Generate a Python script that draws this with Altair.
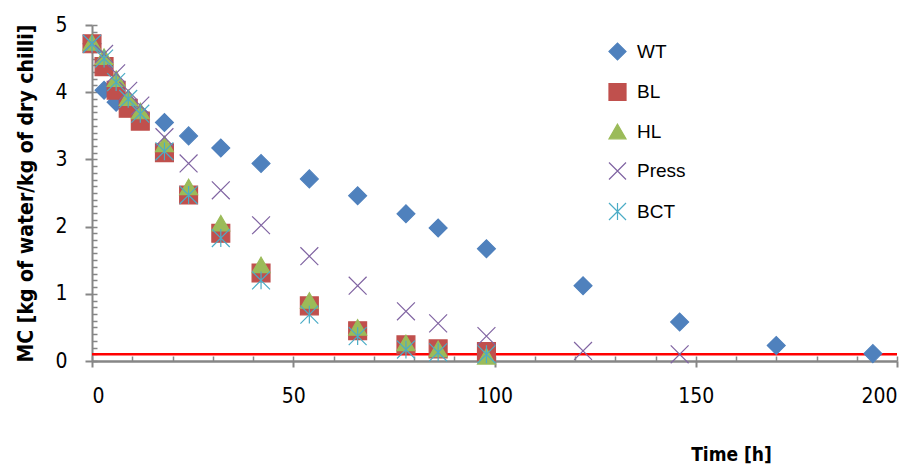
import altair as alt
import pandas as pd

# ---- data ----
SERIES = ["WT", "BL", "HL", "Press", "BCT"]
T_BASE = [0, 3, 6, 9, 12, 18, 24, 32, 42, 54, 66, 78, 86, 98]
T_WT = T_BASE + [122, 146, 170, 194]
T_PRESS = T_BASE + [122, 146]

WT = [4.72, 4.03, 3.85, 3.78, 3.68, 3.55, 3.35, 3.17, 2.94, 2.71, 2.46, 2.19, 1.98, 1.67, 1.12, 0.58, 0.23, 0.11]
BL = [4.72, 4.38, 4.03, 3.76, 3.57, 3.10, 2.47, 1.90, 1.31, 0.82, 0.45, 0.24, 0.18, 0.14]
HL = [4.74, 4.53, 4.20, 3.92, 3.72, 3.23, 2.59, 2.05, 1.43, 0.90, 0.50, 0.27, 0.18, 0.07]
PRESS = [4.72, 4.57, 4.28, 4.02, 3.80, 3.33, 2.94, 2.54, 2.02, 1.56, 1.12, 0.74, 0.56, 0.37, 0.15, 0.10]
BCT = [4.72, 4.50, 4.15, 3.90, 3.68, 3.12, 2.47, 1.83, 1.20, 0.69, 0.37, 0.17, 0.13, 0.10]

THRESHOLD = 0.1
X_TICKS = [0, 50, 100, 150, 200]
X_MINOR = list(range(0, 201, 10))
Y_TICKS = [0, 1, 2, 3, 4, 5]
Y_MINOR = [round(i / 10, 1) for i in range(0, 51)]

COLORS = ["#4F81BD", "#C0504D", "#9BBB59", "#8064A2", "#4BACC6"]
SHAPES = ["diamond", "square", "triangle-up",
          "M-1,-1L1,1M-1,1L1,-1",
          "M-1,-1L1,1M-1,1L1,-1M0,-1L0,1"]

rows = []
for name, times, vals in [("WT", T_WT, WT), ("BL", T_BASE, BL), ("HL", T_BASE, HL),
                          ("Press", T_PRESS, PRESS), ("BCT", T_BASE, BCT)]:
    for t, v in zip(times, vals):
        rows.append({"series": name, "time": t, "mc": v, "order": SERIES.index(name)})
df = pd.DataFrame(rows)

NARROW = "Liberation Sans Narrow, DejaVu Sans Condensed, Arial Narrow, sans-serif"
REG = "Liberation Sans, Arial, sans-serif"
AX = "#868686"

xscale = alt.Scale(domain=[0, 200], nice=False, zero=False)
yscale = alt.Scale(domain=[0, 5], nice=False, zero=False)

x_major = alt.Axis(values=X_TICKS, title="Time [h]", grid=False, orient="bottom",
                   domainColor=AX, domainWidth=2.5,
                   tickColor=AX, tickWidth=2, tickSize=6, labelPadding=18,
                   labelFont=NARROW, labelFontSize=21, labelColor="black",
                   titleFont=NARROW, titleFontSize=19, titleFontWeight="bold", titleColor="black",
                   titleX=639, titleY=93, titleAlign="center", titleBaseline="middle")
y_major = alt.Axis(values=Y_TICKS, title="MC [kg of water/kg of dry chilli]", grid=False,
                   orient="left",
                   domainColor=AX, domainWidth=2, tickColor=AX, tickWidth=2, tickSize=7,
                   labelPadding=18, labelFont=NARROW, labelFontSize=21, labelColor="black",
                   titleFont=NARROW, titleFontSize=21, titleFontWeight="bold", titleColor="black",
                   titleX=-66, titleY=168, titleAngle=270, titleAlign="center", titleBaseline="middle")
x_minor = alt.Axis(values=X_MINOR, title=None, labels=False, domain=False, grid=False,
                   tickColor=AX, tickWidth=1.5, tickSize=5, offset=-5, orient="bottom")
y_minor = alt.Axis(values=Y_MINOR, title=None, labels=False, domain=False, grid=False,
                   tickColor=AX, tickWidth=1.5, tickSize=5, offset=-5, orient="left")

legend = alt.Legend(title=None, orient="none", legendX=516, legendY=17, labelFont=REG,
                    labelFontSize=19, labelColor="black", symbolSize=290, rowPadding=17.5,
                    labelOffset=10, padding=0, symbolStrokeWidth=1.2)

points = alt.Chart(df).mark_point(filled=False, size=320, opacity=1, strokeWidth=1.2).encode(
    x=alt.X("time:Q", scale=xscale, axis=x_major),
    y=alt.Y("mc:Q", scale=yscale, axis=y_major),
    fill=alt.Fill("series:N", sort=SERIES, scale=alt.Scale(domain=SERIES, range=COLORS), legend=legend),
    stroke=alt.Stroke("series:N", sort=SERIES, scale=alt.Scale(domain=SERIES, range=COLORS), legend=legend),
    shape=alt.Shape("series:N", sort=SERIES, scale=alt.Scale(domain=SERIES, range=SHAPES), legend=legend),
    order=alt.Order("order:Q"),
)

line_df = pd.DataFrame({"x": [0], "x2": [200], "y": [THRESHOLD]})
redline = alt.Chart(line_df).mark_rule(color="#FF0000", strokeWidth=2.5).encode(
    x=alt.X("x:Q", scale=xscale, axis=x_minor),
    x2="x2:Q",
    y=alt.Y("y:Q", scale=yscale, axis=y_minor),
)

chart = alt.layer(redline, points).resolve_axis(x="independent", y="independent").properties(
    width=805, height=336,
    autosize=alt.AutoSizeParams(type="none"),
    padding={"left": 84, "top": 17, "right": 12, "bottom": 103},
    background="white",
).configure_view(stroke=None)

chart.save("out.html", embed_options={"renderer": "svg", "actions": False})
